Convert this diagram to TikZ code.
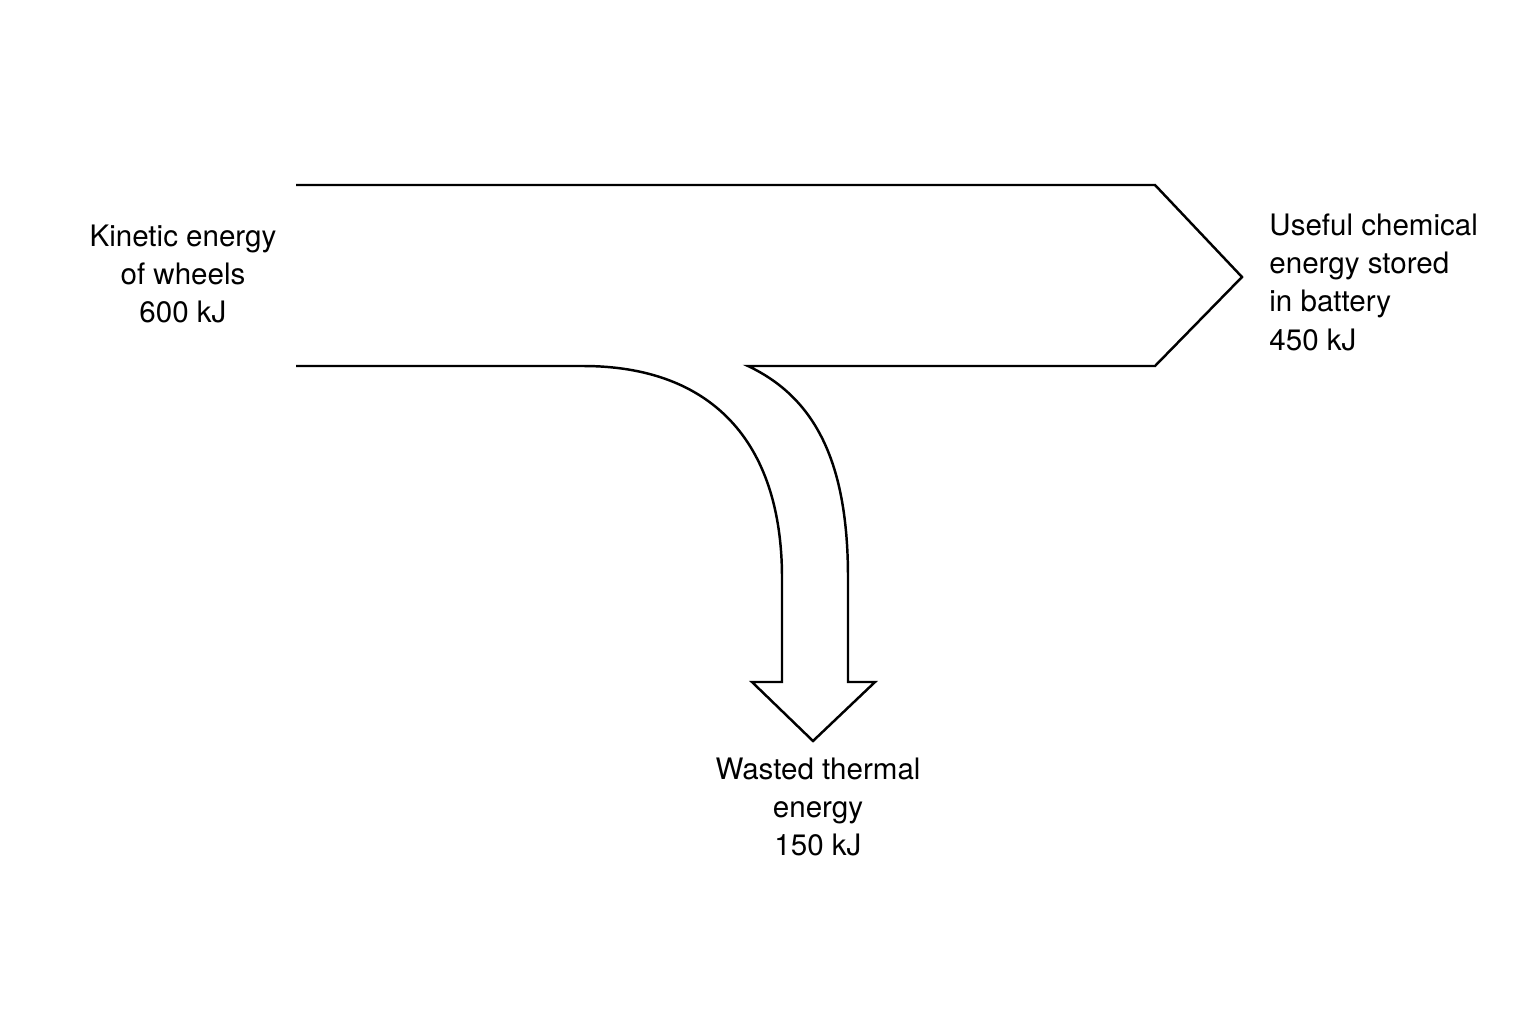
\documentclass[tikz,border=0pt]{standalone}
\usepackage{fontspec}
\setmainfont{TeX Gyre Heros}
\begin{document}
\begin{tikzpicture}[x=0.01cm,y=-0.01cm,
  every node/.style={font=\fontsize{8.4pt}{10.9pt}\selectfont},
  flow/.style={draw=black,line width=0.7pt,line join=miter}]
  \useasboundingbox (0,0) rectangle (1536,1024);
  % the energy flow
  \draw[flow] (296,185) -- (1155,185) -- (1242,277) -- (1155,366) -- (748,366)
    .. controls (820,400) and (848,470) .. (848,578) -- (848,682) -- (875,682)
    -- (813,741) -- (752,682) -- (782,682) -- (782,578)
    .. controls (782,440) and (710,366) .. (583,366) -- (296,366);
  \node[align=center] (input) at (183,274) {Kinetic energy\\of wheels\\600 kJ};
  \node[align=left,anchor=west] (useful) at (1257,282) {Useful chemical\\energy stored\\in battery\\450 kJ};
  \node[align=center] (waste) at (818,807) {Wasted thermal\\energy\\150 kJ};
\end{tikzpicture}
\end{document}
